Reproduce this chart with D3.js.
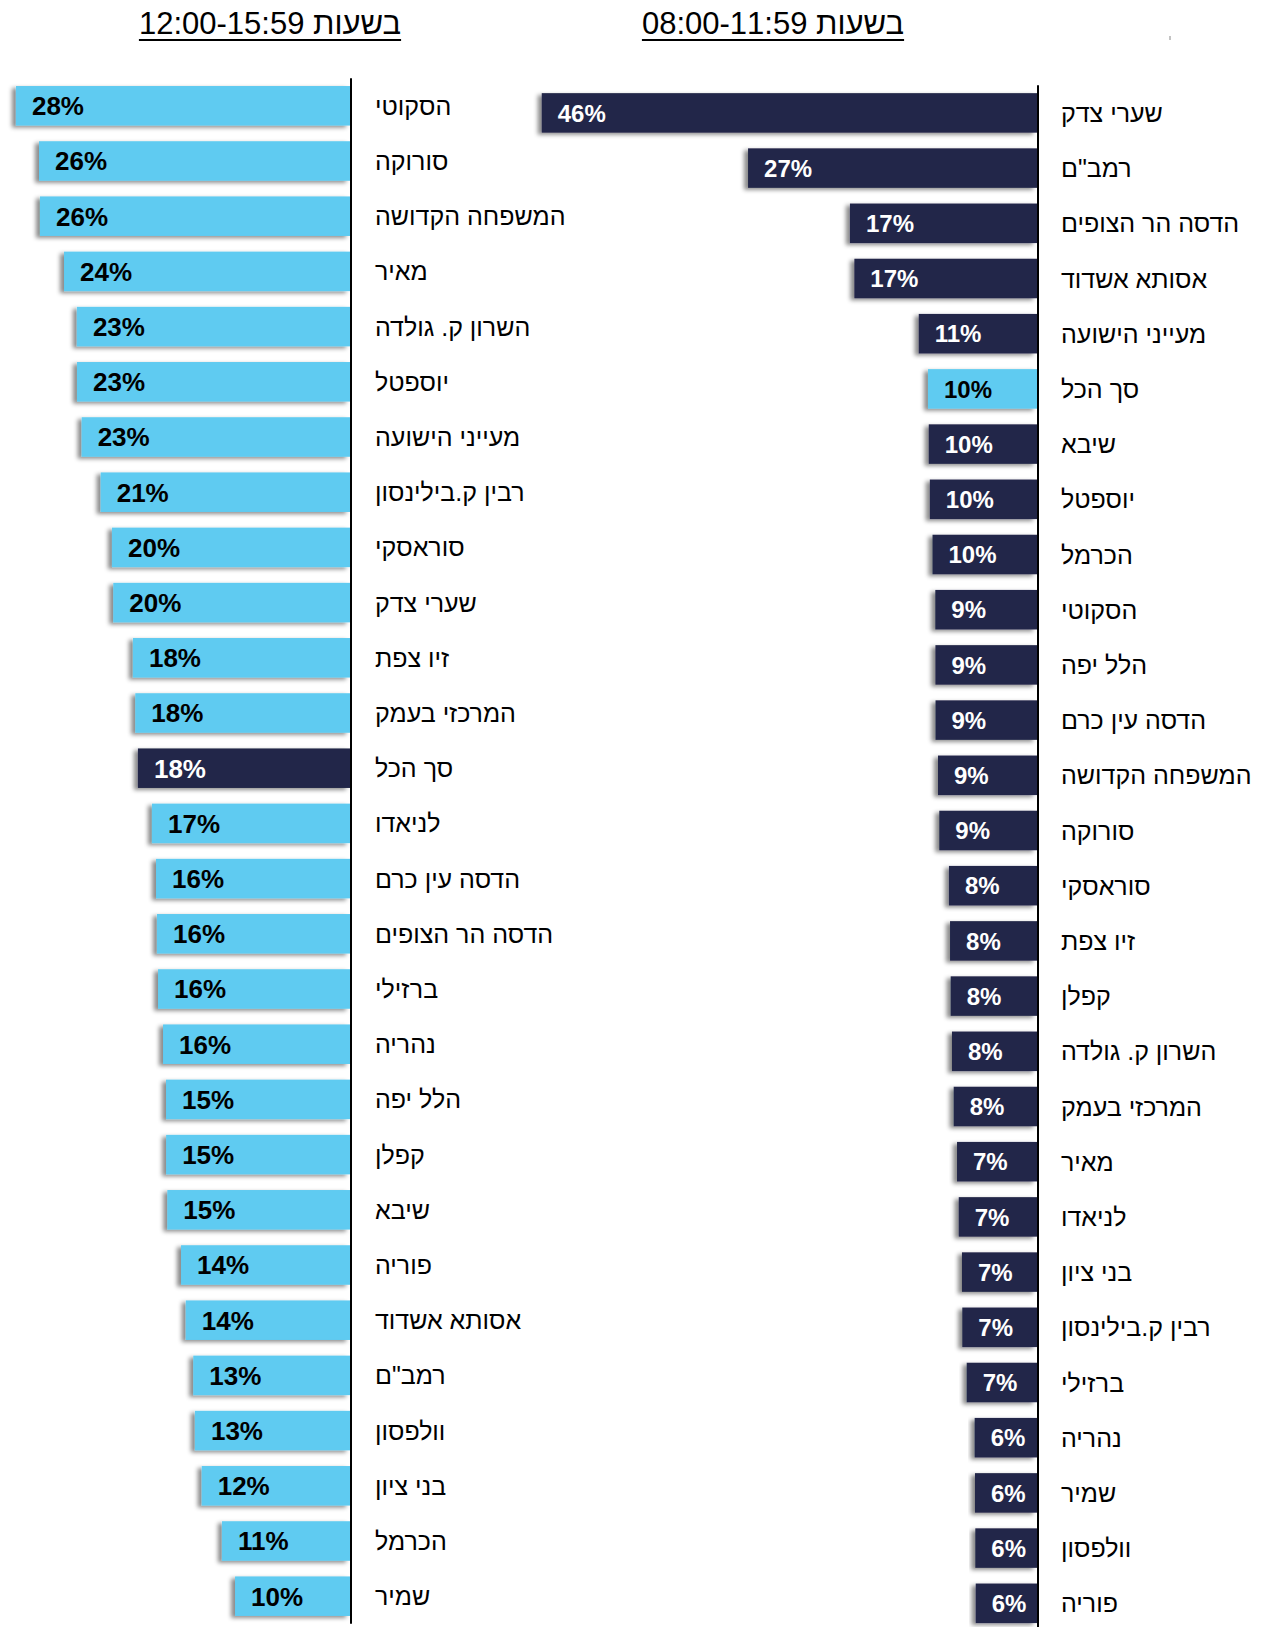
<!DOCTYPE html>
<html lang="he">
<head>
<meta charset="utf-8">
<script src="https://cdn.jsdelivr.net/npm/d3@7/dist/d3.min.js"></script>
<style>
  html, body { margin: 0; padding: 0; background: #fff; }
  svg { display: block; font-family: "Liberation Sans", Arial, sans-serif; }
</style>
</head>
<body>
<svg id="chart" width="1267" height="1627"></svg>
<script>
// ---- Data ----
const titleMorning = "בשעות 08:00-11:59";
const titleNoon = "בשעות 12:00-15:59";
const totalLabel = "סך הכל";

const morningCategories = ["שערי צדק","רמב\"ם","הדסה הר הצופים","אסותא אשדוד","מעייני הישועה","סך הכל","שיבא","יוספטל","הכרמל","הסקוטי","הלל יפה","הדסה עין כרם","המשפחה הקדושה","סורוקה","סוראסקי","זיו צפת","קפלן","השרון ק. גולדה","המרכזי בעמק","מאיר","לניאדו","בני ציון","רבין ק.בילינסון","ברזילי","נהריה","שמיר","וולפסון","פוריה"];
const morningValues = [46.07,26.88,17.4,16.99,11.0,10.14,10.07,9.97,9.72,9.46,9.45,9.44,9.21,9.09,8.19,8.09,8.03,7.91,7.75,7.44,7.28,6.98,6.95,6.54,5.8,5.77,5.74,5.7];

const noonCategories = ["הסקוטי","סורוקה","המשפחה הקדושה","מאיר","השרון ק. גולדה","יוספטל","מעייני הישועה","רבין ק.בילינסון","סוראסקי","שערי צדק","זיו צפת","המרכזי בעמק","סך הכל","לניאדו","הדסה עין כרם","הדסה הר הצופים","ברזילי","נהריה","הלל יפה","קפלן","שיבא","פוריה","אסותא אשדוד","רמב\"ם","וולפסון","בני ציון","הכרמל","שמיר"];
const noonValues = [28.07,26.13,26.05,24.03,22.95,22.94,22.55,20.95,20.0,19.89,18.24,18.04,17.82,16.64,16.3,16.22,16.13,15.71,15.46,15.45,15.35,14.2,13.8,13.17,13.03,12.46,10.76,9.66];

// ---- Drawing ----
const svg = d3.select("#chart");
const DARK = "#242849", LIGHT = "#5ecbf1";

const defs = svg.append("defs");
const f = defs.append("filter").attr("id","shadow").attr("x","-10%").attr("y","-20%").attr("width","120%").attr("height","150%");
f.append("feDropShadow").attr("dx",-4).attr("dy",2).attr("stdDeviation",2)
  .attr("flood-color","#000").attr("flood-opacity",0.45);

function panel(opt) {
  const data = opt.cats.map((c,i)=>({cat:c, value:opt.vals[i]}));
  const y = d3.scaleBand().domain(opt.cats)
    .range([opt.top, opt.top + opt.cats.length*55.2])
    .paddingInner(0.284).paddingOuter(0.142);
  const x = d3.scaleLinear().domain(opt.domain).range(opt.range);
  const g = svg.append("g");

  g.selectAll("rect.bar").data(data).join("rect")
    .attr("class","bar")
    .attr("x", d=>x(d.value))
    .attr("y", d=>y(d.cat))
    .attr("width", d=>x(0)-x(d.value))
    .attr("height", y.bandwidth())
    .attr("fill", d=> d.cat===totalLabel ? opt.hi : opt.base)
    .attr("filter","url(#shadow)");

  g.selectAll("text.val").data(data).join("text")
    .attr("class","val")
    .attr("x", d=>x(d.value)+16)
    .attr("y", d=>y(d.cat)+y.bandwidth()/2)
    .attr("dy","0.36em")
    .attr("font-size",opt.valSize).attr("font-weight","bold")
    .attr("fill", d=> (d.cat===totalLabel ? opt.hi : opt.base)===DARK ? "#fff" : "#000")
    .text(d=>d3.format(".0%")(d.value/100));

  // axis line + category labels
  const axis = d3.axisRight(y).tickSize(0).tickPadding(opt.labelGap);
  const ag = g.append("g").attr("transform",`translate(${opt.axisX},0)`).call(axis);
  ag.select(".domain").attr("stroke","#000").attr("stroke-width",2)
    .attr("d", `M0,${opt.top}V${opt.top + opt.cats.length*55.2}`);
  ag.selectAll(".tick text").attr("font-size",25)
    .attr("font-family",'"Liberation Sans", Arial, sans-serif')
    .attr("fill","#000").attr("text-anchor","start").attr("dy","0.36em");

  // title
  const t = svg.append("text").attr("x",opt.titleX).attr("y",34)
    .attr("text-anchor","middle").attr("font-size",31).attr("fill","#000")
    .text(opt.title);
  const bb = t.node().getBBox();
  svg.append("line").attr("x1",bb.x).attr("x2",bb.x+bb.width)
    .attr("y1",40).attr("y2",40).attr("stroke","#000").attr("stroke-width",2);
}

panel({cats:noonCategories, vals:noonValues, top:78.2, domain:[0,29.41], range:[350,0],
  axisX:351, labelGap:24, base:LIGHT, hi:DARK, title:titleNoon, titleX:270, valSize:26});
panel({cats:morningCategories, vals:morningValues, top:85.3, domain:[0,50], range:[1037,499.5],
  axisX:1038, labelGap:23, base:DARK, hi:LIGHT, title:titleMorning, titleX:773, valSize:24});

svg.append("line").attr("x1",1170).attr("x2",1170).attr("y1",36).attr("y2",40)
  .attr("stroke","#888").attr("stroke-width",1);
</script>
</body>
</html>
